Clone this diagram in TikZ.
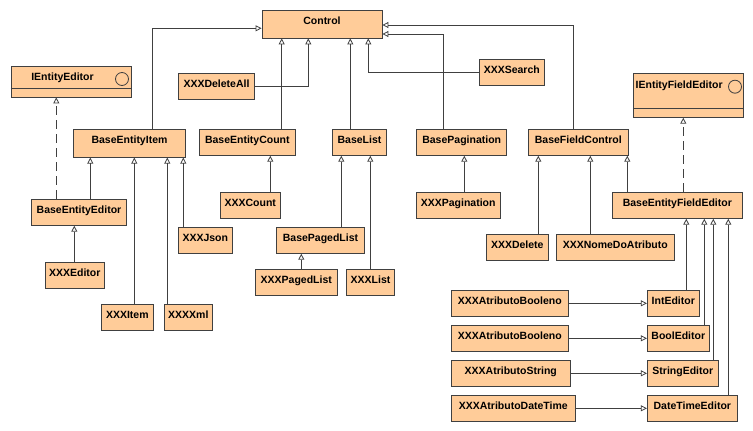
\documentclass[tikz,border=0pt]{standalone}
\usepackage{fontspec}
\setmainfont{Liberation Sans}
\usepackage{xcolor}
\definecolor{Peach}{HTML}{FFCC99}
\definecolor{EdgeGray}{HTML}{404040}
\usetikzlibrary{arrows.meta}

\begin{document}
\begin{tikzpicture}[x=1pt,y=-1pt,
  cls/.style={draw=EdgeGray,fill=Peach,line width=0.8pt,minimum height=26,inner sep=1pt,
    font=\bfseries\fontsize{10.5}{12}\selectfont,text height=7.5pt,text depth=6pt},
  txt/.style={font=\bfseries\fontsize{10.5}{12}\selectfont,inner sep=0pt},
  inh/.style={draw=EdgeGray,line width=0.8pt,-{Triangle[open,length=6pt,width=6pt]}},
  real/.style={inh,dash pattern=on 9pt off 5pt}]
  \useasboundingbox (0,0) rectangle (753,431);

  \node[cls,minimum width=120,minimum height=28] (control) at (322,24) {Control};
  \node[cls,minimum width=120,minimum height=31] (ieditor) at (71,81.5) {};
  \node[txt,anchor=base] (ieditor-t) at (62.5,80.8) {IEntityEditor};
  \draw[EdgeGray,line width=0.8pt] (ieditor.west |- 0,88.7) -- (ieditor.east |- 0,88.7);
  \draw[EdgeGray,line width=0.8pt] (122,79) circle[radius=6.5pt];
  \node[cls,minimum width=110,minimum height=44] (ifeditor) at (688.3,95.3) {};
  \node[txt,anchor=base west] (ifeditor-t) at (635.5,88) {IEntityFieldEditor};
  \draw[EdgeGray,line width=0.8pt] (ifeditor.west |- 0,108.3) -- (ifeditor.east |- 0,108.3);
  \draw[EdgeGray,line width=0.8pt] (735,86.7) circle[radius=6.5pt];

  \node[cls,minimum width=75.6] (deleteall) at (216.5,86.3) {XXXDeleteAll};
  \node[cls,minimum width=65] (search) at (511.8,72.3) {XXXSearch};
  \node[cls,minimum width=111.6,minimum height=28] (baseitem) at (129.5,143.2) {BaseEntityItem};
  \node[cls,minimum width=96] (basecount) at (247.3,142.3) {BaseEntityCount};
  \node[cls,minimum width=53.6] (baselist) at (359.5,142.3) {BaseList};
  \node[cls,minimum width=90] (basepag) at (461.7,142.3) {BasePagination};
  \node[cls,minimum width=100] (basefield) at (578.3,142.3) {BaseFieldControl};
  \node[cls,minimum width=95.4] (baseeditor) at (79,212.3) {BaseEntityEditor};
  \node[cls,minimum width=60] (count) at (250.3,205.3) {XXXCount};
  \node[cls,minimum width=84.3] (pagination) at (458.2,205.3) {XXXPagination};
  \node[cls,minimum width=130] (bfeditor) at (677.3,205.3) {BaseEntityFieldEditor};
  \node[cls,minimum width=54] (json) at (205.3,240.3) {XXXJson};
  \node[cls,minimum width=88.4] (pagedlist) at (320.5,240.3) {BasePagedList};
  \node[cls,minimum width=62] (delete) at (517.3,247.3) {XXXDelete};
  \node[cls,minimum width=118] (nome) at (615.3,247.3) {XXXNomeDoAtributo};
  \node[cls,minimum width=59] (xeditor) at (74.8,275.3) {XXXEditor};
  \node[cls,minimum width=82] (xpagedlist) at (296.3,282.3) {XXXPagedList};
  \node[cls,minimum width=47.6] (xlist) at (370.5,282.3) {XXXList};
  \node[cls,minimum width=52] (item) at (127.3,317.3) {XXXItem};
  \node[cls,minimum width=48] (xml) at (188.3,317.3) {XXXXml};
  \node[cls,minimum width=117] (bool1) at (509.8,303.3) {XXXAtributoBooleno};
  \node[cls,minimum width=52] (inted) at (673.3,303.3) {IntEditor};
  \node[cls,minimum width=117] (bool2) at (509.8,338.3) {XXXAtributoBooleno};
  \node[cls,minimum width=62] (booled) at (678.3,338.3) {BoolEditor};
  \node[cls,minimum width=119] (str) at (510.8,373.3) {XXXAtributoString};
  \node[cls,minimum width=71] (stred) at (682.8,373.3) {StringEditor};
  \node[cls,minimum width=124] (dt) at (513.3,408.3) {XXXAtributoDateTime};
  \node[cls,minimum width=90] (dted) at (692.3,408.3) {DateTimeEditor};

  \draw[inh] (baseitem.north -| 152.3,0) |- ([yshift=-4.3]control.west);
  \draw[inh] (basecount.north -| 281.7,0) -- (control.south -| 281.7,0);
  \draw[inh] (deleteall.east) -| (control.south -| 308.3,0);
  \draw[inh] (baselist.north -| 350.3,0) -- (control.south -| 350.3,0);
  \draw[inh] (search.west) -| (control.south -| 368.3,0);
  \draw[inh] (basepag.north -| 443.3,0) |- ([yshift=-10]control.east);
  \draw[inh] (basefield.north -| 573.3,0) |- ([yshift=-1]control.east);

  \draw[real] (baseeditor.north -| 56.3,0) -- (ieditor.south -| 56.3,0);
  \draw[inh] (baseeditor.north -| 90.3,0) -- (baseitem.south -| 90.3,0);
  \draw[inh] (item.north -| 134.3,0) -- (baseitem.south -| 134.3,0);
  \draw[inh] (xml.north -| 167.3,0) -- (baseitem.south -| 167.3,0);
  \draw[inh] (json.north -| 183.3,0) -- (baseitem.south -| 183.3,0);
  \draw[inh] (xeditor.north -| 74.3,0) -- (baseeditor.south -| 74.3,0);
  \draw[inh] (count.north -| 270.3,0) -- (basecount.south -| 270.3,0);
  \draw[inh] (pagedlist.north -| 341.3,0) -- (baselist.south -| 341.3,0);
  \draw[inh] (xlist.north -| 370.3,0) -- (baselist.south -| 370.3,0);
  \draw[inh] (xpagedlist.north -| 301.3,0) -- (pagedlist.south -| 301.3,0);
  \draw[inh] (pagination.north -| 464.3,0) -- (basepag.south -| 464.3,0);
  \draw[inh] (delete.north -| 538.3,0) -- (basefield.south -| 538.3,0);
  \draw[inh] (nome.north -| 590.3,0) -- (basefield.south -| 590.3,0);
  \draw[inh] (bfeditor.north -| 627.3,0) -- (basefield.south -| 627.3,0);
  \draw[real] (bfeditor.north -| 683.3,0) -- (ifeditor.south -| 683.3,0);
  \draw[inh] (inted.north -| 686.3,0) -- (bfeditor.south -| 686.3,0);
  \draw[inh] (booled.north -| 704.3,0) -- (bfeditor.south -| 704.3,0);
  \draw[inh] (stred.north -| 713.3,0) -- (bfeditor.south -| 713.3,0);
  \draw[inh] (dted.north -| 728.3,0) -- (bfeditor.south -| 728.3,0);
  \draw[inh] (bool1.east) -- (inted.west);
  \draw[inh] (bool2.east) -- (booled.west);
  \draw[inh] (str.east) -- (stred.west);
  \draw[inh] (dt.east) -- (dted.west);
\end{tikzpicture}
\end{document}
